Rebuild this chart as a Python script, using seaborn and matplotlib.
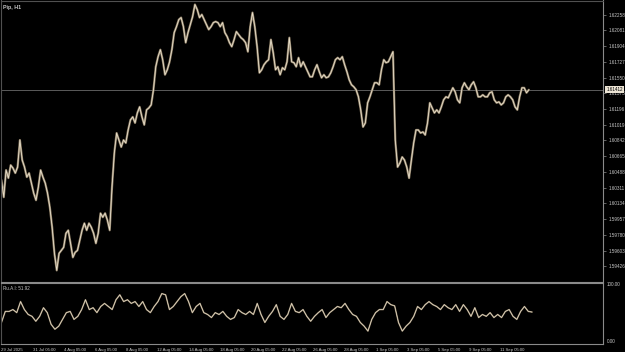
import numpy as np
import pandas as pd
import matplotlib
matplotlib.use("Agg")
import matplotlib.pyplot as plt
import seaborn as sns

# ---------------- data ----------------
title = "Pip, H1"
indicator_name = "Ru.A.I"

price_close = [
    1.60396, 1.60204, 1.60509, 1.60419, 1.60565, 1.60531, 1.60475, 1.60543, 1.60847, 1.60622,
    1.60543, 1.60430, 1.60475, 1.60362, 1.60249, 1.60170, 1.60317, 1.60509, 1.60430, 1.60362,
    1.60249, 1.60091, 1.59866, 1.59572, 1.59381, 1.59572, 1.59606, 1.59640, 1.59798, 1.59832,
    1.59685, 1.59527, 1.59584, 1.59606, 1.59719, 1.59832, 1.59911, 1.59832, 1.59911, 1.59866,
    1.59798, 1.59685, 1.59798, 1.60024, 1.59979, 1.60024, 1.59945, 1.59832, 1.60317, 1.60701,
    1.60926, 1.60847, 1.60768, 1.60847, 1.60814, 1.60960, 1.61073,
    1.61107, 1.61039, 1.61152, 1.61220, 1.61107, 1.61017, 1.61186, 1.61208, 1.61242, 1.61412,
    1.61671, 1.61784, 1.61863, 1.61750, 1.61581, 1.61637, 1.61727, 1.61863, 1.62055, 1.62122,
    1.62201, 1.62224, 1.62122, 1.61942, 1.62055, 1.62145, 1.62235, 1.62371, 1.62314, 1.62224,
    1.62258, 1.62201, 1.62145, 1.62089, 1.62122, 1.62167, 1.62179, 1.62167, 1.62122, 1.62167,
    1.62055, 1.62010, 1.61942, 1.61897, 1.61976, 1.62066, 1.62032, 1.61998, 1.61976, 1.61942,
    1.61840, 1.62122, 1.62280, 1.62122, 1.61897, 1.61603, 1.61637, 1.61694, 1.61727,
    1.61750, 1.61976, 1.61829, 1.61637, 1.61671, 1.61581, 1.61660, 1.61637, 1.61727, 1.61998,
    1.61727, 1.61716, 1.61671, 1.61773, 1.61671, 1.61727, 1.61671, 1.61615, 1.61558, 1.61558,
    1.61637, 1.61694, 1.61615, 1.61547, 1.61581, 1.61547, 1.61558, 1.61603, 1.61671, 1.61750,
    1.61773, 1.61750, 1.61784, 1.61694, 1.61615, 1.61524, 1.61468, 1.61445, 1.61412, 1.61333,
    1.61186, 1.60994, 1.61039, 1.61265, 1.61333, 1.61412, 1.61491, 1.61491, 1.61468, 1.61637,
    1.61750, 1.61716, 1.61727, 1.61784, 1.61840, 1.60847, 1.60543, 1.60588,
    1.60656, 1.60622, 1.60543, 1.60419, 1.60622, 1.60814, 1.60960, 1.60960, 1.60926, 1.60938,
    1.60904, 1.61039, 1.61265, 1.61208, 1.61152, 1.61186, 1.61152, 1.61220, 1.61299, 1.61333,
    1.61321, 1.61378, 1.61434, 1.61389, 1.61299, 1.61265, 1.61434, 1.61491, 1.61445, 1.61412,
    1.61468, 1.61502, 1.61434, 1.61333, 1.61333, 1.61355, 1.61333, 1.61333, 1.61378, 1.61389,
    1.61299, 1.61265, 1.61276, 1.61242, 1.61265, 1.61333, 1.61355, 1.61333, 1.61299, 1.61220,
    1.61186, 1.61333, 1.61434, 1.61434, 1.61378, 1.61412,
]

indicator_values = [
    35, 53, 53, 56, 51, 69, 56, 48, 45, 37,
    45, 59, 51, 32, 24, 29, 40, 51, 53, 40,
    45, 56, 72, 56, 59, 51, 61, 66, 61, 56,
    72, 80, 69, 72, 66, 69, 61, 69, 56, 51,
    61, 69, 82, 80, 56, 61, 69, 77, 82, 69,
    51, 61, 66, 51, 48, 43, 51, 48, 53, 45,
    40, 43, 56, 51, 48, 53, 48, 66, 48, 35,
    45, 53, 64, 45, 40, 48, 66, 53, 51, 56,
    45, 37, 45, 51, 56, 43, 51, 56, 61, 59,
    66, 56, 48, 45, 35, 29, 21, 40, 51, 56,
    56, 69, 64, 62, 35, 21, 29, 35,
    45, 61, 56, 64, 69, 64, 61, 56, 64, 59,
    56, 64, 53, 64, 56, 45, 59, 43, 48, 45,
    51, 43, 48, 43, 53, 56, 45, 40, 53, 61,
    53, 51.92,
]

date_labels = ["29 Jul 2025", "31 Jul 05:00", "4 Aug 05:00", "6 Aug 05:00", "8 Aug 05:00",
               "12 Aug 05:00", "14 Aug 05:00", "18 Aug 05:00", "20 Aug 05:00", "22 Aug 05:00",
               "26 Aug 05:00", "28 Aug 05:00", "1 Sep 05:00", "3 Sep 05:00", "5 Sep 05:00",
               "9 Sep 05:00", "11 Sep 05:00"]
bars_per_label = 48
price_last_bar = 812
indicator_last_bar = 817

price_ticks = [1.59426, 1.59603, 1.59780, 1.59957, 1.60134, 1.60311, 1.60488, 1.60665,
               1.60842, 1.61019, 1.61196, 1.61373, 1.61550, 1.61727, 1.61904, 1.62081, 1.62258]
price_range = (1.59256, 1.62416)
indicator_levels = [0.0, 100.0]

# ---------------- style ----------------
W, H, DPI = 625, 352, 100
BG = "#000000"
TXT = "#c8c8c8"
GRID = "#8a8a8a"
FRAME = "#505050"
CANDLE_DARK = "#8a7b63"
CANDLE_LIGHT = "#e9e0cc"

sns.set_theme(style="dark", rc={
    "figure.facecolor": BG, "axes.facecolor": BG, "savefig.facecolor": BG,
    "axes.edgecolor": FRAME, "text.color": TXT, "xtick.color": TXT, "ytick.color": TXT,
    "axes.grid": False,
})
plt.rcParams["font.family"] = ["Liberation Sans", "DejaVu Sans"]

fig = plt.figure(figsize=(W / DPI, H / DPI), dpi=DPI)

def px_axes(left, top, right, bottom):
    return fig.add_axes([left / W, 1 - bottom / H, (right - left) / W, (bottom - top) / H])

ax = px_axes(0.5, 0.5, 603, 281.5)
ax2 = px_axes(0.5, 282.5, 603, 344)

px_per_bar = 0.65
xlim = (-1.5, 603 / px_per_bar - 1.5)

price_df = pd.DataFrame({
    "bar": np.linspace(0, price_last_bar, len(price_close)),
    "close": price_close,
})
ind_df = pd.DataFrame({
    "bar": np.linspace(0, indicator_last_bar, len(indicator_values)),
    "value": indicator_values,
})

# price: candle-like band (dark) + light line on top
sns.lineplot(data=price_df, x="bar", y="close", ax=ax, color=CANDLE_DARK, lw=1.6, estimator=None)
sns.lineplot(data=price_df, x="bar", y="close", ax=ax, color=CANDLE_LIGHT, lw=0.6, estimator=None)

last = price_close[-1]
ax.axhline(last, color="#6a6a6a", lw=0.6, zorder=0)

ax.set_xlim(*xlim)
ax.set_ylim(*price_range)
ax.set_xticks([])
ax.yaxis.tick_right()
ax.set_yticks(price_ticks)
ax.set_yticklabels([f"{t:.5f}" for t in price_ticks], fontsize=3.3)
ax.tick_params(axis="y", length=2, width=0.5, color=GRID, pad=2)
ax.set_xlabel("")
ax.set_ylabel("")
for side, sp in ax.spines.items():
    sp.set_linewidth(0.8)
    sp.set_color(GRID if side in ("right", "bottom") else FRAME)

ax.annotate(f"{last:.5f}", xy=(1.0, last), xycoords=("axes fraction", "data"),
            xytext=(2.5, 0), textcoords="offset points", fontsize=3.3, color="#000000",
            va="center", ha="left",
            bbox=dict(boxstyle="square,pad=0.25", fc="#ece4d4", ec="none"), zorder=10,
            annotation_clip=False)

ax.text(0.004, 0.985, title, transform=ax.transAxes, fontsize=3.8, color=TXT,
        ha="left", va="top", fontweight="bold")

# indicator panel
sns.lineplot(data=ind_df, x="bar", y="value", ax=ax2, color=CANDLE_DARK, lw=1.1, estimator=None)
sns.lineplot(data=ind_df, x="bar", y="value", ax=ax2, color=CANDLE_LIGHT, lw=0.45, estimator=None)
ax2.set_xlim(*xlim)
ax2.set_ylim(indicator_levels[0], indicator_levels[1])
ax2.yaxis.tick_right()
ax2.set_yticks(indicator_levels)
ylabs = ax2.set_yticklabels([f"{v:.2f}" for v in indicator_levels], fontsize=3.3)
ylabs[0].set_va("bottom")
ylabs[1].set_va("top")
ax2.tick_params(axis="y", length=0, pad=3)
ax2.set_xticks(np.arange(len(date_labels)) * bars_per_label)
ax2.set_xticklabels(date_labels, fontsize=3.1, ha="left")
ax2.tick_params(axis="x", length=2.5, width=0.5, color=GRID, pad=0.5)
ax2.set_xlabel("")
ax2.set_ylabel("")
for side, sp in ax2.spines.items():
    sp.set_linewidth(0.8)
    sp.set_color(GRID if side in ("right", "bottom", "top") else FRAME)

ax2.text(0.004, 0.95, f"{indicator_name}: {indicator_values[-1]:.2f}", transform=ax2.transAxes,
         fontsize=3.3, color=TXT, ha="left", va="top")

fig.savefig("out.png", dpi=DPI, facecolor=BG)
